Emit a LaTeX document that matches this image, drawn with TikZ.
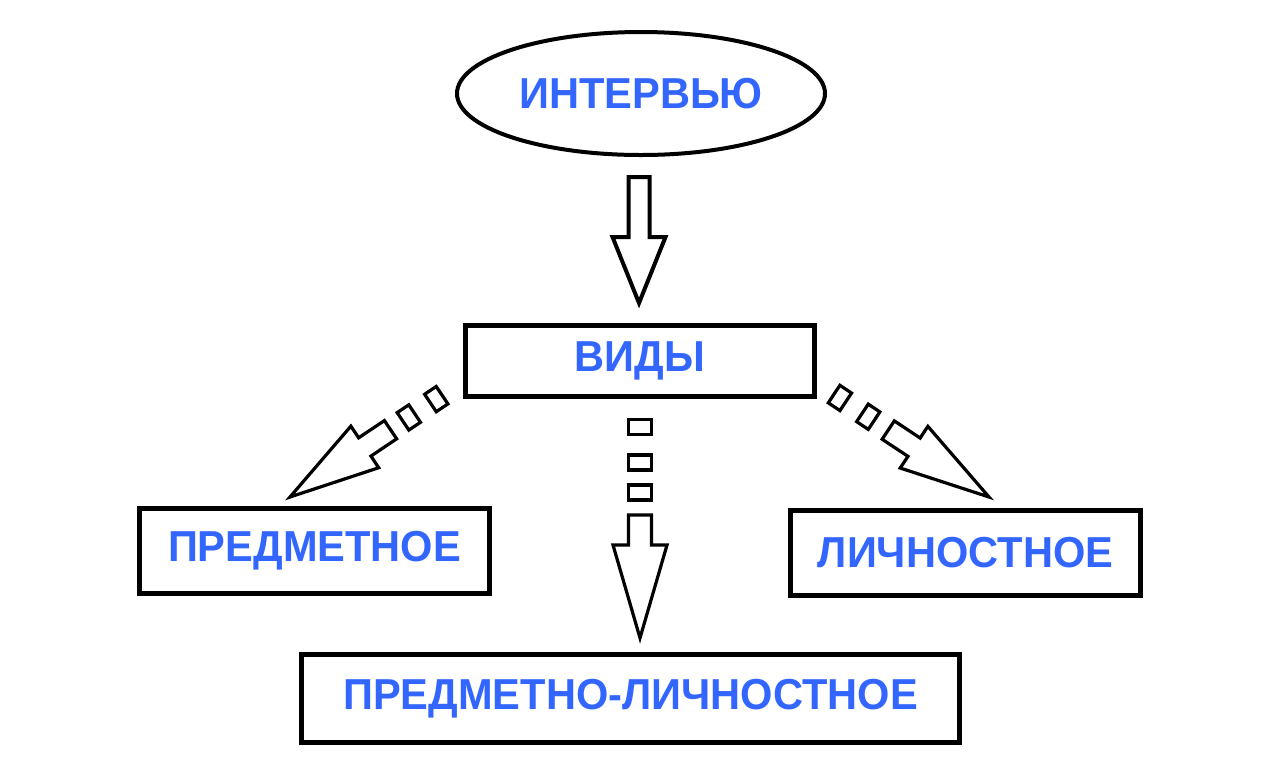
\documentclass[tikz,border=0pt]{standalone}
\usepackage{fontspec}
\setmainfont{Liberation Sans}
\newfontfamily\lblfont[FakeStretch=0.96]{Liberation Sans}
\usetikzlibrary{shapes.geometric}
\definecolor{txtblue}{RGB}{51,102,255}
\newcommand\blkarrow[4]{% head length, head half-width, shaft end, shaft half-width
  \draw[arrowline] (0,0) -- (#1,#2) -- (#1,#4) -- (#3,#4) -- (#3,-#4) -- (#1,-#4) -- (#1,-#2) -- cycle;}
\newcommand\dashrect[3]{% centre, length along, width across
  \draw[arrowline] ({#1-#2/2},{-#3/2}) rectangle ({#1+#2/2},{#3/2});}
\tikzset{
  lbl/.style={font=\lblfont\bfseries\fontsize{32.5}{38}\selectfont, text=txtblue, inner sep=0pt},
  boxnode/.style={lbl, draw=black, line width=3.75pt, rectangle},
  ovalnode/.style={lbl, draw=black, line width=3pt, ellipse},
  arrowline/.style={draw=black, line width=2.4pt, fill=white, line join=miter},
  toparrowline/.style={arrowline, line width=3pt},
}
\begin{document}
\begin{tikzpicture}[x=0.75pt,y=-0.75pt]
\useasboundingbox (0,0) rectangle (1280,776);
\fill[white] (0,0) rectangle (1280,776);

\node[ovalnode, minimum width=276pt, minimum height=92.25pt] (interview) at (641,93.5) {ИНТЕРВЬЮ};
\node[boxnode, minimum width=261.75pt, minimum height=53.25pt] (vidy) at (640,361) {ВИДЫ};
\node[boxnode, minimum width=262.5pt, minimum height=63.75pt] (predm) at (314.5,551) {ПРЕДМЕТНОЕ};
\node[boxnode, minimum width=262.5pt, minimum height=63.75pt] (lichn) at (965.5,553) {ЛИЧНОСТНОЕ};
\node[boxnode, minimum width=493.5pt, minimum height=66pt] (both) at (630.5,698.5) {ПРЕДМЕТНО-ЛИЧНОСТНОЕ};

% tips of the block arrows
\coordinate (tipTop) at (639,303);
\coordinate (tipMid) at (640,638);
\coordinate (tipLeft) at (290,497);
\coordinate (tipRight) at (989,497);

% interview -> vidy
\begin{scope}[shift={(tipTop)}, rotate=90]
  \draw[toparrowline] (0,0) -- (66,26.5) -- (66,10.5) -- (126,10.5) -- (126,-10.5) -- (66,-10.5) -- (66,-26.5) -- cycle;
\end{scope}

% vidy -> both
\begin{scope}[shift={(tipMid)}, rotate=90]
  \blkarrow{93}{27}{123}{11.5}
  \dashrect{145.5}{15}{23}
  \dashrect{175.5}{15}{23}
  \dashrect{211}{15}{23}
\end{scope}

% vidy -> predm
\begin{scope}[shift={(tipLeft)}, rotate=33.8]
  \blkarrow{90}{25}{121}{11}
  \dashrect{143}{14}{21}
  \dashrect{176}{14}{21}
\end{scope}

% vidy -> lichn
\begin{scope}[shift={(tipRight)}, rotate=146.4]
  \blkarrow{90}{25}{121}{11}
  \dashrect{145}{14}{21}
  \dashrect{179}{14}{21}
\end{scope}
\end{tikzpicture}
\end{document}
